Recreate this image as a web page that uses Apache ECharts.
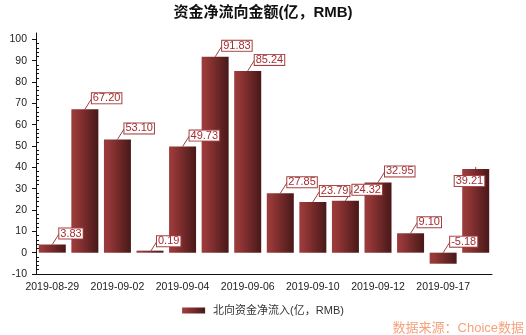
<!DOCTYPE html>
<html><head><meta charset="utf-8">
<script src="https://cdn.jsdelivr.net/npm/echarts@6/dist/echarts.min.js"></script>
<style>html,body{margin:0;padding:0;background:#fff}#c{width:526px;height:335px}</style>
</head><body><div id="c"></div>
<script>
const categories = ['2019-08-29','2019-08-30','2019-09-02','2019-09-03','2019-09-04','2019-09-05','2019-09-06','2019-09-09','2019-09-10','2019-09-11','2019-09-12','2019-09-16','2019-09-17','2019-09-18'];
const netInflow = [3.83, 67.20, 53.10, 0.19, 49.73, 91.83, 85.24, 27.85, 23.79, 24.32, 32.95, 9.10, -5.18, 39.21];
const yTicks = [-10, 0, 10, 20, 30, 40, 50, 60, 70, 80, 90, 100];
const yMin = -10, yMax = 103;
const titleText = '资金净流向金额(亿，RMB)';
const seriesName = '北向资金净流入(亿，RMB)';
const sourceNote = '数据来源：Choice数据';

const yMinorTicks = [];
for (let k = 0; k < yTicks.length - 1; k++) {
  const a = yTicks[k], step = (yTicks[k + 1] - a) / 5;
  for (let j = 1; j < 5; j++) yMinorTicks.push(a + step * j);
}

const FONT = '"Liberation Sans", Arial, "Noto Sans CJK SC", sans-serif';
const barGrad = {type: 'linear', x: 0, y: 0, x2: 1, y2: 0,
  colorStops: [{offset: 0, color: '#9c3c3c'}, {offset: 0.15, color: '#973838'}, {offset: 1, color: '#481818'}]};

const chart = echarts.init(document.getElementById('c'), null, {renderer: 'canvas'});
chart.setOption({
  animation: false,
  backgroundColor: '#fff',
  textStyle: {fontFamily: FONT},
  title: [
    {text: titleText, left: 'center', top: 0,
     textStyle: {fontSize: 15, fontWeight: 'bold', color: '#111', fontFamily: FONT}},
    {text: sourceNote, right: 2, bottom: 0, padding: 0,
     textStyle: {fontSize: 13, fontWeight: 'normal', color: '#f6a27c', fontFamily: FONT}}
  ],
  legend: {
    data: [seriesName], left: 'center', top: 300, itemWidth: 23, itemHeight: 6, icon: 'rect',
    textStyle: {fontSize: 11, color: '#333', fontFamily: FONT, padding: [0, 0, 0, 3]}
  },
  grid: {left: 36, right: 34, top: 33, bottom: 61, containLabel: false},
  xAxis: {
    type: 'category', data: categories,
    axisLine: {onZero: false, lineStyle: {color: '#111', width: 1}},
    axisTick: {alignWithLabel: true, interval: 0, length: 4, lineStyle: {color: '#111'}},
    axisLabel: {interval: 1, fontSize: 10.5, color: '#222', margin: 8, fontFamily: FONT},
    splitLine: {show: false}
  },
  yAxis: [
    {type: 'value', min: yMin, max: yMax, position: 'left',
     axisLine: {show: true, lineStyle: {color: '#111'}},
     axisTick: {show: true, length: 4, customValues: yTicks, lineStyle: {color: '#111'}},
     axisLabel: {customValues: yTicks, fontSize: 10.5, color: '#222', margin: 9, fontFamily: FONT},
     splitLine: {show: false}},
    {type: 'value', min: yMin, max: yMax, position: 'left',
     axisLine: {show: false},
     axisTick: {show: true, inside: true, length: 3, customValues: yMinorTicks, lineStyle: {color: '#111'}},
     axisLabel: {show: false},
     splitLine: {show: false}}
  ],
  series: [
    {name: seriesName, type: 'bar', data: netInflow, barWidth: 27, barMinHeight: 2,
     itemStyle: {color: barGrad}},
    {type: 'custom', name: 'labels', z: 10, silent: true,
     data: netInflow.map((v, i) => [i, v]),
     encode: {x: 0, y: 1},
     renderItem: function (params, api) {
       const idx = params.dataIndex;
       const v = api.value(1);
       const p = api.coord([api.value(0), Math.max(v, 0)]);
       const cx = p[0], ty = p[1];
       const special = idx === netInflow.length - 1;
       const lx = special ? cx - 21 : cx + 7;
       const ly = special ? ty + 12 : ty - 11;
       return {type: 'group', children: [
         {type: 'line', shape: special ? {x1: cx, y1: ty, x2: cx, y2: ty - 2} : {x1: cx, y1: ty, x2: lx, y2: ly},
          style: {stroke: '#a3403f', lineWidth: 1}},
         {type: 'text', x: lx, y: ly, z2: 5,
          style: {text: v.toFixed(2), font: '11px ' + FONT, fill: '#a22d33',
                  backgroundColor: '#fff', borderColor: '#a4403f', borderWidth: 1,
                  padding: [0, 1, 0, 1], align: 'left', verticalAlign: 'middle', lineHeight: 10}}
       ]};
     }}
  ]
});
</script></body></html>
